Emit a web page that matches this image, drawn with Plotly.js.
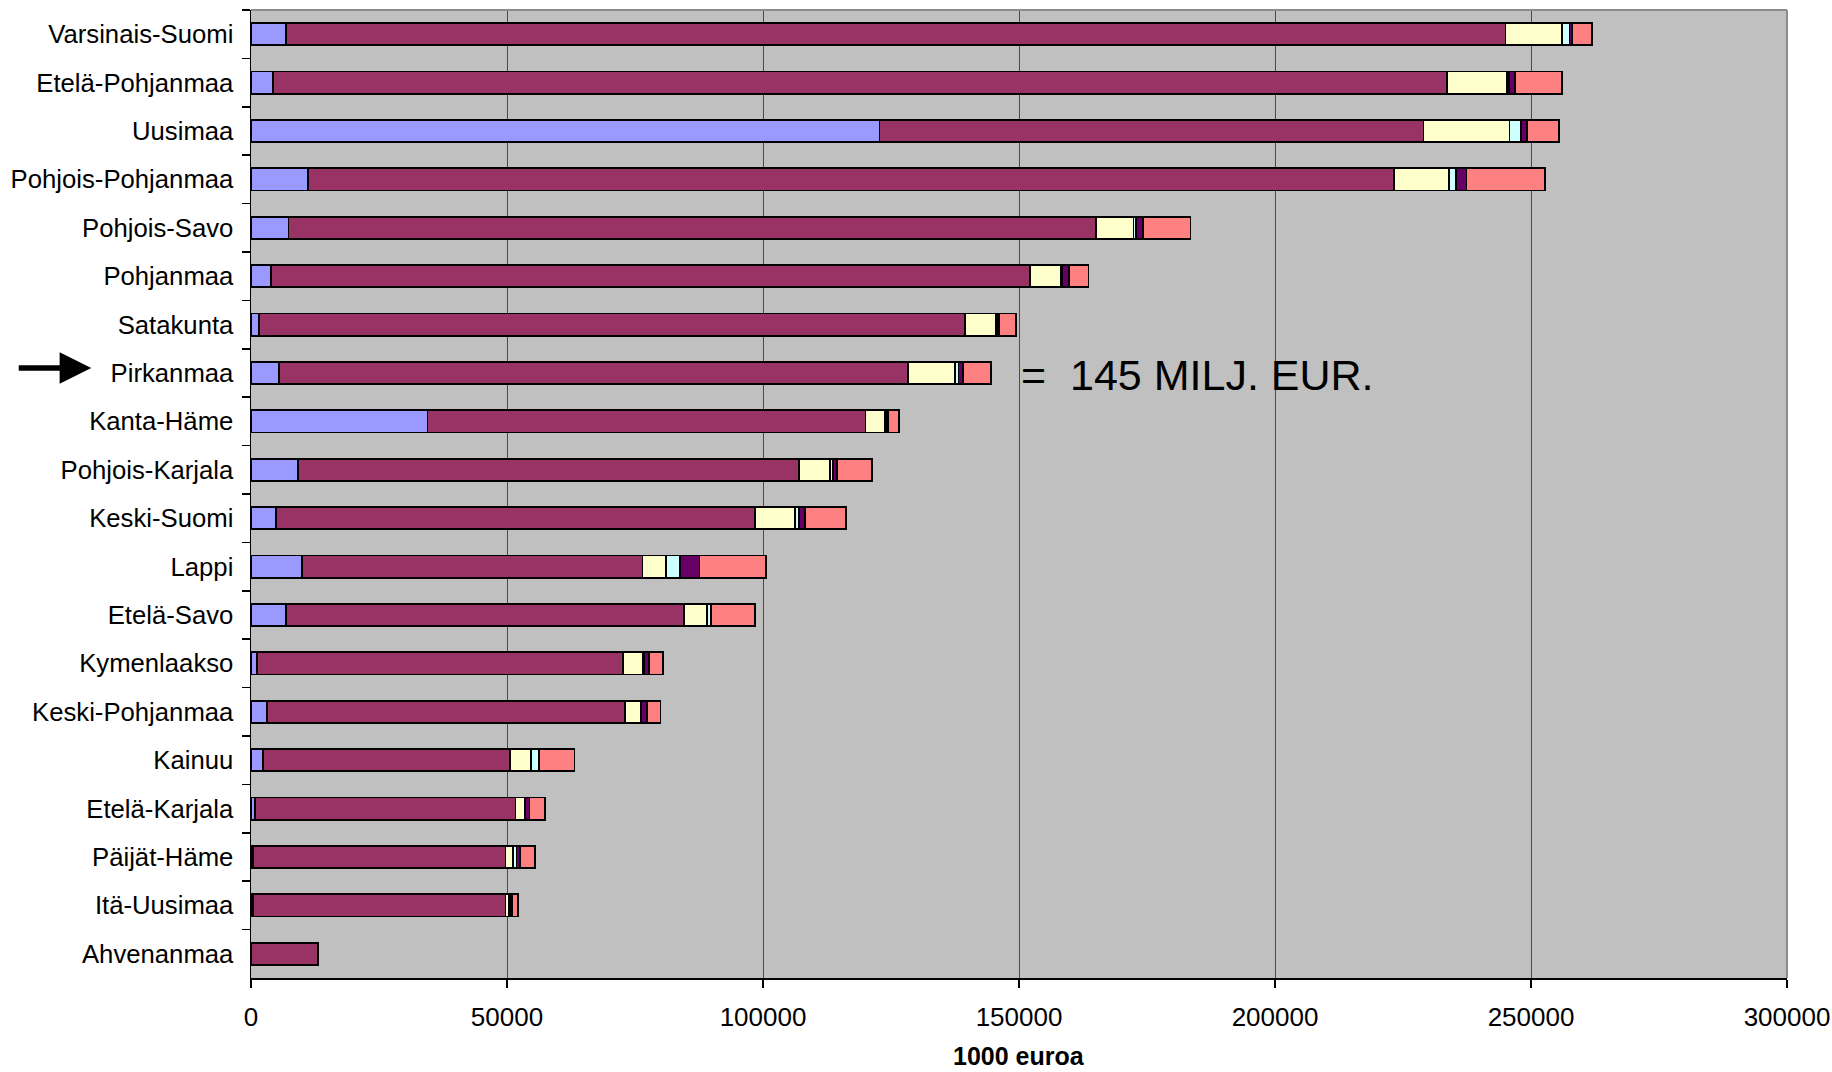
<!DOCTYPE html>
<html>
<head>
<meta charset="utf-8">
<script src="https://cdn.plot.ly/plotly-3.0.1.min.js"></script>
<style>
html,body{margin:0;padding:0;background:#fff;}
#chart{width:1832px;height:1072px;}
</style>
</head>
<body>
<div id="chart"></div>
<script>
const regions = ["Varsinais-Suomi","Etelä-Pohjanmaa","Uusimaa","Pohjois-Pohjanmaa","Pohjois-Savo","Pohjanmaa","Satakunta","Pirkanmaa","Kanta-Häme","Pohjois-Karjala","Keski-Suomi","Lappi","Etelä-Savo","Kymenlaakso","Keski-Pohjanmaa","Kainuu","Etelä-Karjala","Päijät-Häme","Itä-Uusimaa","Ahvenanmaa"];

const seriesBlue   = [6870,4260,122740,11170,7320,3870,1520,5430,34460,9210,4920,9920,6870,1130,3090,2300,750,400,400,0];
const seriesMaroon = [238150,229300,106260,212040,157780,148280,138000,122960,85540,97760,93590,66530,77640,71530,69900,48240,50900,49300,49300,13040];
const seriesYellow = [11070,11800,16800,10740,7280,6050,6050,9170,3760,6130,7750,4610,4550,3910,3130,4160,1760,1480,640,0];
const seriesCyan   = [1430,300,2280,1440,470,300,200,640,200,590,710,2670,730,300,150,1500,200,670,200,0];
const seriesPurple = [530,1260,1090,2010,1420,1190,330,870,390,690,1170,3850,100,810,1020,0,770,640,450,0];
const seriesSalmon = [3830,9180,6250,15290,9240,3900,3380,5390,2150,6840,8080,12950,8590,2740,2670,6970,3050,2990,1110,0];

const xTickVals = [0,50000,100000,150000,200000,250000,300000];
const xTickText = ["0","50000","100000","150000","200000","250000","300000"];
const xTitle = "1000 euroa";
const noteText = "=\u00A0 145 MILJ. EUR.";
const noteRegion = "Pirkanmaa";

const colors = ["#9999FF","#993366","#FFFFCC","#CCFFFF","#660066","#FF8080"];
const allSeries = [seriesBlue,seriesMaroon,seriesYellow,seriesCyan,seriesPurple,seriesSalmon];

const traces = allSeries.map((vals,i)=>({
  type:"bar",
  orientation:"h",
  y:regions,
  x:vals,
  marker:{color:colors[i], line:{color:"#000000", width:1.8}},
  showlegend:false,
  hoverinfo:"x+y"
}));

const FONT = "Liberation Sans, Arial, sans-serif";

const layout = {
  width:1832, height:1072,
  margin:{l:251, r:45, t:10, b:94},
  paper_bgcolor:"#ffffff",
  plot_bgcolor:"#C0C0C0",
  barmode:"stack",
  bargap:0.54,
  font:{family:FONT, size:26, color:"#000"},
  xaxis:{
    range:[0,300000],
    tickvals:xTickVals, ticktext:xTickText,
    showgrid:true, gridcolor:"#4a4a4a", gridwidth:1,
    zeroline:false,
    showline:true, linecolor:"#000", linewidth:1.5,
    ticks:"outside", ticklen:8, tickcolor:"#000", tickwidth:1.5,
    ticklabelstandoff:7,
    tickfont:{family:FONT, size:26},
    fixedrange:true
  },
  yaxis:{
    type:"category",
    autorange:"reversed",
    showgrid:false,
    showline:true, linecolor:"#000", linewidth:1.5,
    ticks:"outside", tickson:"boundaries", ticklen:8, tickcolor:"#000", tickwidth:1.5,
    ticklabelstandoff:11,
    tickfont:{family:FONT, size:25.7},
    fixedrange:true
  },
  shapes:[
    {type:"line", xref:"paper", yref:"paper", x0:0, x1:1, y0:1, y1:1, line:{color:"#8c8c8c", width:2}},
    {type:"line", xref:"paper", yref:"paper", x0:1, x1:1, y0:0, y1:1, line:{color:"#8c8c8c", width:2}}
  ],
  annotations:[
    {xref:"paper", yref:"paper", x:0.5, y:-(1056-978)/968, xanchor:"center", yanchor:"middle",
     text:"<b>"+xTitle+"</b>", showarrow:false, font:{family:FONT, size:25, color:"#000"}},
    {xref:"x", yref:"paper", x:150000, y:(978-375)/968, xanchor:"left", yanchor:"middle",
     text:noteText, showarrow:false, font:{family:FONT, size:43, color:"#000"}},
    {xref:"paper", yref:"paper", x:-0.104, y:(978-368)/968, ax:-74, ay:0,
     text:"", showarrow:true, arrowhead:2, arrowsize:1.15, arrowwidth:5.5, arrowcolor:"#000"}
  ]
};

Plotly.newPlot("chart", traces, layout, {displayModeBar:false, staticPlot:true});
</script>
</body>
</html>
